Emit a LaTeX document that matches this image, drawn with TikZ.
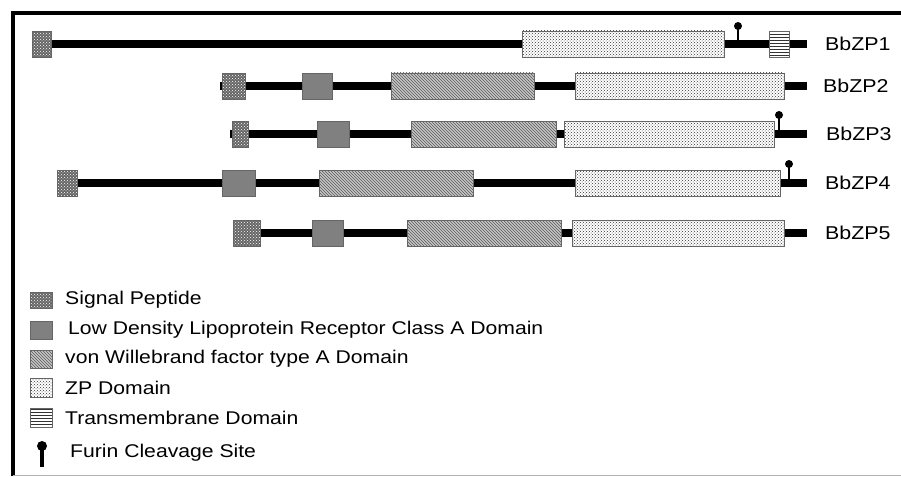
\documentclass[tikz,border=0pt]{standalone}
\usepackage{fontspec}
\setmainfont[FakeStretch=1.15]{Liberation Sans}
\usetikzlibrary{patterns,positioning}

\begin{document}
\begin{tikzpicture}
[x=1pt, y=-1pt,
 dom/.style={draw=black!60, line width=.8pt, minimum height=26pt, inner sep=0pt},
 sp/.style={dom, preaction={fill=black!60}, pattern=crosshatch dots, pattern color=white},
 ldl/.style={dom, fill=black!50},
 vwa/.style={dom, preaction={fill=black!22}, pattern=north west lines, pattern color=black!65},
 zp/.style={dom, preaction={fill=white}, pattern=crosshatch dots, pattern color=black!80},
 tm/.style={dom, preaction={fill=white}, pattern=horizontal lines, pattern color=black!80},
 chain/.style={line width=7.5pt},
 furin/.style={line width=2.6pt},
 knob/.style={circle, fill=black, inner sep=0pt, minimum size=8pt},
 lab/.style={font=\fontsize{18.6}{20}\selectfont, anchor=west, inner sep=0pt},
 leg/.style={font=\fontsize{18.4}{20}\selectfont, anchor=west, inner sep=0pt}]
\useasboundingbox (0,0) rectangle (901,476);
% frame
\draw[line width=3.5pt] (901,13) -- (13,13) -- (13,476);
\draw[black!30, line width=1pt] (13,475) -- (901,475);
% BbZP1
\coordinate (s1) at (32,44);
\coordinate (e1) at (807,44);
\draw[chain] (s1) -- (e1);
\node[sp, minimum width=19pt] (sp1) at (41.5,44) {};
\node[zp, minimum width=202pt] (zp1) at (623,44) {};
\node[knob] (k1) at (738,26) {};
\draw[furin] (k1.center) -- (k1 |- e1);
\node[tm, minimum width=20pt] (tm1) at (779,44) {};
\node[lab] (n1) at (825,44) {BbZP1};
% BbZP2
\coordinate (s2) at (220,86);
\coordinate (e2) at (807,86);
\draw[chain] (s2) -- (e2);
\node[sp, minimum width=23pt] (sp2) at (233.5,86) {};
\node[ldl, minimum width=30pt] (ldl2) at (317,86) {};
\node[vwa, minimum width=143pt] (vwa2) at (462.5,86) {};
\node[zp, minimum width=209pt] (zp2) at (679.5,86) {};
\node[lab] (n2) at (823,86) {BbZP2};
% BbZP3
\coordinate (s3) at (230,134);
\coordinate (e3) at (807,134);
\draw[chain] (s3) -- (e3);
\node[sp, minimum width=16pt] (sp3) at (240,134) {};
\node[ldl, minimum width=32pt] (ldl3) at (333,134) {};
\node[vwa, minimum width=145pt] (vwa3) at (483.5,134) {};
\node[zp, minimum width=210pt] (zp3) at (669,134) {};
\node[knob] (k3) at (779,115) {};
\draw[furin] (k3.center) -- (k3 |- e3);
\node[lab] (n3) at (826,134) {BbZP3};
% BbZP4
\coordinate (s4) at (57,183);
\coordinate (e4) at (807,183);
\draw[chain] (s4) -- (e4);
\node[sp, minimum width=20pt] (sp4) at (67,183) {};
\node[ldl, minimum width=33pt] (ldl4) at (238.5,183) {};
\node[vwa, minimum width=154pt] (vwa4) at (396,183) {};
\node[zp, minimum width=205pt] (zp4) at (677.5,183) {};
\node[knob] (k4) at (789,164) {};
\draw[furin] (k4.center) -- (k4 |- e4);
\node[lab] (n4) at (825,183) {BbZP4};
% BbZP5
\coordinate (s5) at (233,233);
\coordinate (e5) at (807,233);
\draw[chain] (s5) -- (e5);
\node[sp, minimum width=27pt] (sp5) at (246.5,233) {};
\node[ldl, minimum width=31pt] (ldl5) at (327.5,233) {};
\node[vwa, minimum width=154pt] (vwa5) at (484,233) {};
\node[zp, minimum width=212pt] (zp5) at (678,233) {};
\node[lab] (n5) at (825,233) {BbZP5};
% legend
\node[sp, minimum width=22pt, minimum height=16pt] (lsp) at (41,300) {};
\node[leg] (tsp) at (65,300) {Signal Peptide};
\node[ldl, minimum width=22pt, minimum height=18pt] (lldl) at (41,330) {};
\node[leg] (tldl) at (68,330) {Low Density Lipoprotein Receptor Class A Domain};
\node[vwa, minimum width=22pt, minimum height=18pt] (lvwa) at (41,359) {};
\node[leg] (tvwa) at (65,359) {von Willebrand factor type A Domain};
\node[zp, minimum width=22pt, minimum height=19pt] (lzp) at (41,388) {};
\node[leg] (tzp) at (65,388) {ZP Domain};
\node[tm, minimum width=22pt, minimum height=19pt] (ltm) at (41,418) {};
\node[leg] (ttm) at (65,418) {Transmembrane Domain};
\node[knob, minimum size=10pt] (lk) at (42,446) {};
\coordinate (lkend) at (42,467);
\draw[line width=3.5pt] (lk.center) -- (lkend);
\node[leg] (tfu) at (70,453) {Furin Cleavage Site};
\end{tikzpicture}
\end{document}
